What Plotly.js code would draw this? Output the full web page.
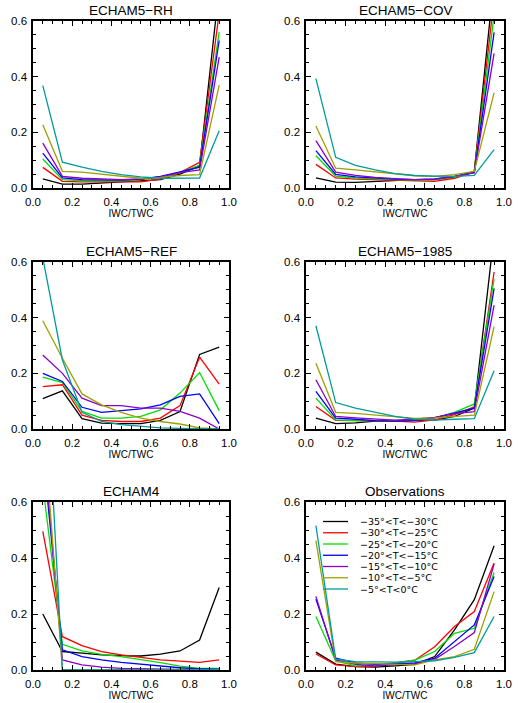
<!DOCTYPE html>
<html>
<head>
<meta charset="utf-8">
<script src="https://cdn.plot.ly/plotly-3.0.1.min.js"></script>
<style>
  html, body { margin: 0; padding: 0; background: #fff; }
  #chart { width: 520px; height: 703px; }
</style>
</head>
<body>
<div id="chart"></div>
<script>
// Bin centres of the IWC/TWC histogram
const binCentres = [0.05, 0.15, 0.25, 0.35, 0.45, 0.55, 0.65, 0.75, 0.85, 0.95];

// Temperature classes (legend labels) and their line colours
const tempRanges = [
  '\u221235\u00b0<T<\u221230\u00b0C',
  '\u221230\u00b0<T<\u221225\u00b0C',
  '\u221225\u00b0<T<\u221220\u00b0C',
  '\u221220\u00b0<T<\u221215\u00b0C',
  '\u221215\u00b0<T<\u221210\u00b0C',
  '\u221210\u00b0<T<\u22125\u00b0C',
  '\u22125\u00b0<T<0\u00b0C'
];
const seriesColors = ['#000000', '#ff0000', '#00e000', '#0000ff', '#8c00c8', '#a0a000', '#009c9c'];

// Panel titles
const panelTitles = ['ECHAM5\u2212RH', 'ECHAM5\u2212COV', 'ECHAM5\u2212REF', 'ECHAM5\u22121985', 'ECHAM4', 'Observations'];

// Relative frequencies, one row per temperature class (warmest last)
const echam5RH = [
  [0.033, 0.014, 0.014, 0.018, 0.022, 0.025, 0.030, 0.050, 0.080, 0.72],
  [0.074, 0.024, 0.022, 0.022, 0.022, 0.022, 0.032, 0.055, 0.092, 0.63],
  [0.104, 0.030, 0.026, 0.025, 0.026, 0.030, 0.038, 0.055, 0.082, 0.56],
  [0.125, 0.036, 0.030, 0.028, 0.028, 0.032, 0.042, 0.058, 0.075, 0.53],
  [0.161, 0.042, 0.035, 0.032, 0.030, 0.033, 0.040, 0.055, 0.065, 0.47],
  [0.227, 0.060, 0.057, 0.050, 0.042, 0.035, 0.038, 0.045, 0.048, 0.37],
  [0.368, 0.093, 0.075, 0.060, 0.048, 0.040, 0.035, 0.036, 0.036, 0.206]
];
const echam5COV = [
  [0.036, 0.021, 0.020, 0.024, 0.027, 0.030, 0.030, 0.040, 0.060, 0.75],
  [0.085, 0.036, 0.032, 0.030, 0.027, 0.025, 0.024, 0.035, 0.058, 0.68],
  [0.116, 0.043, 0.036, 0.032, 0.030, 0.028, 0.030, 0.040, 0.058, 0.62],
  [0.134, 0.049, 0.040, 0.035, 0.032, 0.030, 0.032, 0.042, 0.055, 0.559],
  [0.170, 0.057, 0.045, 0.038, 0.034, 0.030, 0.033, 0.042, 0.055, 0.484],
  [0.223, 0.071, 0.065, 0.058, 0.050, 0.044, 0.042, 0.048, 0.060, 0.342],
  [0.393, 0.110, 0.081, 0.065, 0.052, 0.045, 0.043, 0.042, 0.045, 0.138]
];
const echam5REF = [
  [0.109, 0.137, 0.037, 0.021, 0.019, 0.019, 0.031, 0.063, 0.268, 0.294],
  [0.152, 0.159, 0.050, 0.031, 0.027, 0.027, 0.039, 0.084, 0.258, 0.161],
  [0.186, 0.167, 0.063, 0.039, 0.039, 0.045, 0.069, 0.129, 0.203, 0.066],
  [0.200, 0.171, 0.078, 0.060, 0.066, 0.072, 0.087, 0.117, 0.126, 0.019],
  [0.266, 0.200, 0.111, 0.084, 0.084, 0.075, 0.075, 0.063, 0.039, 0.000],
  [0.389, 0.254, 0.126, 0.087, 0.060, 0.039, 0.027, 0.018, 0.004, 0.000],
  [0.615, 0.248, 0.060, 0.027, 0.016, 0.010, 0.004, 0.002, 0.000, 0.000]
];
const echam5Y1985 = [
  [0.039, 0.019, 0.022, 0.028, 0.030, 0.030, 0.032, 0.045, 0.075, 0.70],
  [0.081, 0.031, 0.030, 0.030, 0.028, 0.025, 0.033, 0.052, 0.080, 0.564],
  [0.111, 0.033, 0.030, 0.030, 0.030, 0.032, 0.040, 0.060, 0.090, 0.540],
  [0.135, 0.039, 0.035, 0.030, 0.028, 0.030, 0.040, 0.058, 0.075, 0.505],
  [0.177, 0.045, 0.040, 0.035, 0.032, 0.035, 0.042, 0.055, 0.062, 0.445],
  [0.236, 0.060, 0.056, 0.050, 0.042, 0.038, 0.040, 0.045, 0.050, 0.368],
  [0.371, 0.095, 0.075, 0.060, 0.045, 0.035, 0.032, 0.035, 0.037, 0.209]
];
const echam4 = [
  [0.200, 0.066, 0.060, 0.054, 0.051, 0.050, 0.057, 0.068, 0.107, 0.295],
  [0.495, 0.119, 0.087, 0.066, 0.054, 0.045, 0.036, 0.032, 0.027, 0.036],
  [0.66, 0.092, 0.068, 0.056, 0.048, 0.038, 0.026, 0.014, 0.006, 0.006],
  [0.78, 0.072, 0.048, 0.036, 0.027, 0.020, 0.014, 0.008, 0.004, 0.004],
  [0.84, 0.036, 0.018, 0.010, 0.006, 0.004, 0.003, 0.002, 0.002, 0.002],
  [0.92, 0.002, 0.001, 0.000, 0.000, 0.000, 0.000, 0.000, 0.000, 0.000],
  [1.30, 0.000, 0.000, 0.000, 0.000, 0.000, 0.000, 0.000, 0.000, 0.004]
];
const observations = [
  [0.064, 0.021, 0.012, 0.010, 0.015, 0.020, 0.048, 0.143, 0.251, 0.444],
  [0.057, 0.018, 0.012, 0.014, 0.025, 0.035, 0.083, 0.155, 0.209, 0.382],
  [0.191, 0.032, 0.015, 0.018, 0.025, 0.035, 0.066, 0.131, 0.149, 0.348],
  [0.253, 0.042, 0.025, 0.020, 0.022, 0.025, 0.042, 0.101, 0.161, 0.334],
  [0.263, 0.036, 0.020, 0.015, 0.018, 0.022, 0.038, 0.084, 0.134, 0.378],
  [0.462, 0.030, 0.025, 0.022, 0.020, 0.018, 0.036, 0.048, 0.074, 0.280],
  [0.516, 0.039, 0.030, 0.028, 0.028, 0.030, 0.033, 0.045, 0.062, 0.191]
];

const panels = [echam5RH, echam5COV, echam5REF, echam5Y1985, echam4, observations];

const FONT = 'Liberation Sans, Arial, Helvetica, sans-serif';
const KEY_FONT = 'DejaVu Sans, Verdana, sans-serif';
const W = 520, H = 703;

// Plot-box pixel positions (left/right per column, top/bottom per row)
const colBox = [[33, 229], [306, 504]];
const rowBox = [[21, 188], [262, 429], [502, 670]];

const traces = [];
const layout = {
  width: W, height: H,
  margin: {l: 0, r: 0, t: 0, b: 0},
  paper_bgcolor: '#fff', plot_bgcolor: '#fff',
  showlegend: false,
  font: {family: FONT, color: '#000'},
  annotations: [],
  shapes: []
};

function axisBase() {
  return {
    ticks: 'inside', ticklen: 5, tickwidth: 1, tickcolor: '#000',
    showline: true, linewidth: 1.6, linecolor: '#000', mirror: 'ticks',
    showgrid: false, zeroline: false, fixedrange: true,
    tickformat: '.1f',
    tickfont: {family: FONT, size: 11.5, color: '#000'},
    minor: {dtick: 0.05, ticks: 'inside', ticklen: 3, tickwidth: 1, tickcolor: '#000', showgrid: false}
  };
}

panels.forEach((data, p) => {
  const n = p + 1;
  const col = p % 2, row = Math.floor(p / 2);
  const xs = n === 1 ? '' : String(n);
  const [x0, x1] = colBox[col];
  const [y0, y1] = rowBox[row];

  layout['xaxis' + xs] = Object.assign(axisBase(), {
    domain: [x0 / W, x1 / W],
    range: [0, 1], tick0: 0, dtick: 0.2,
    anchor: 'y' + xs,
    ticklabelstandoff: 3,
    title: {text: 'IWC/TWC', font: {family: FONT, size: 10, color: '#000'}, standoff: 1}
  });
  layout['yaxis' + xs] = Object.assign(axisBase(), {
    domain: [1 - y1 / H, 1 - y0 / H],
    range: [0, 0.6], tick0: 0, dtick: 0.2,
    ticklabelstandoff: 2,
    anchor: 'x' + xs
  });

  data.forEach((vals, s) => {
    traces.push({
      type: 'scatter', mode: 'lines',
      x: binCentres, y: vals,
      xaxis: 'x' + xs, yaxis: 'y' + xs,
      name: tempRanges[s],
      line: {color: seriesColors[s], width: 1.3},
      hoverinfo: 'skip'
    });
  });

  layout.annotations.push({
    text: panelTitles[p],
    xref: 'x' + xs + ' domain', yref: 'y' + xs + ' domain',
    x: 0.5, y: 1, xanchor: 'center', yanchor: 'bottom', yshift: 1,
    showarrow: false,
    font: {family: FONT, size: 13.5, color: '#000'}
  });
});

// Key for the temperature classes inside the Observations panel
tempRanges.forEach((label, s) => {
  const yPix = 521.5 + s * 11.25;
  const yFrac = (rowBox[2][1] - yPix) / (rowBox[2][1] - rowBox[2][0]);
  layout.shapes.push({
    type: 'line', xref: 'x6 domain', yref: 'y6 domain',
    x0: 0.086, x1: 0.212, y0: yFrac, y1: yFrac,
    line: {color: seriesColors[s], width: 1.3}
  });
  layout.annotations.push({
    text: label,
    xref: 'x6 domain', yref: 'y6 domain',
    x: 0.27, y: yFrac, xanchor: 'left', yanchor: 'middle',
    borderpad: 0,
    showarrow: false,
    font: {family: KEY_FONT, size: 9.5, color: '#000'}
  });
});

Plotly.newPlot('chart', traces, layout, {staticPlot: true, displayModeBar: false});
</script>
</body>
</html>
